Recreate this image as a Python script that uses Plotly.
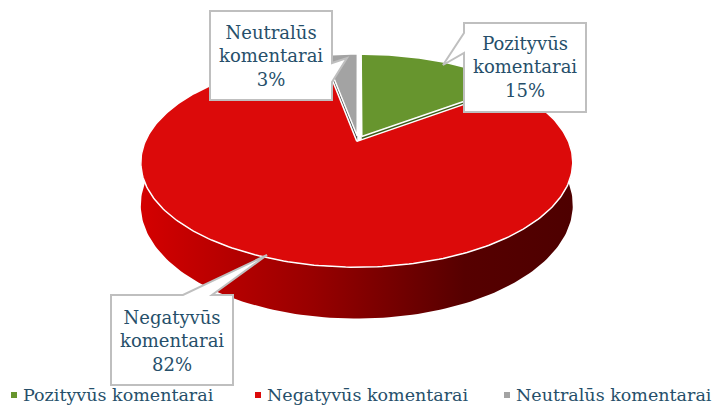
import numpy as np
import plotly.graph_objects as go

# data
labels = ["Pozityvūs komentarai", "Negatyvūs komentarai", "Neutralūs komentarai"]
shares = [15, 82, 3]
top_colors = ["#67952E", "#DC0A0A", "#A3A3A3"]
cut_colors = ["#3B5C18", "#7A0000", "#3F3F3F"]
callout_text = ["Pozityvūs<br>komentarai<br>15%", "Negatyvūs<br>komentarai<br>82%", "Neutralūs<br>komentarai<br>3%"]

# the page puts the figure 8px in from the top-left corner,
# so the axes are set up to read in window pixels
W, H = 724, 409
PAD = 8
cx, cy = 358, 140     # pie centre in pixels
rx, ry = 211, 100     # radii of the top face
depth = 41            # thickness of the disc
persp = 0.2           # perspective strength
explode = [0.04, 0.015, 0.04]
font = "DejaVu Serif"
text_col = "#264F6A"
legend_x = [14, 258, 507]   # legend square positions
legend_y = 395


def proj(u, v, z=0.0):
    s = 1.0 / (1.0 + persp * v)
    return cx + rx * u * s, cy - ry * v * s + depth * z * s


def pts(ang, r=1.0, z=0.0, off=(0, 0)):
    a = np.radians(ang)
    return proj(off[0] + r * np.cos(a), off[1] + r * np.sin(a), z)


# slice angles, clockwise from 12 o'clock
total = sum(shares)
starts, ends = [], []
a = 90.0
for v in shares:
    starts.append(a)
    a -= 360.0 * v / total
    ends.append(a)

offs = []
for i in range(3):
    b = np.radians((starts[i] + ends[i]) / 2)
    offs.append((explode[i] * np.cos(b), explode[i] * np.sin(b)))

fig = go.Figure()


def add_poly(xs, ys, color, line_col=None, lw=0, **kw):
    fig.add_trace(go.Scatter(x=xs, y=ys, mode="lines", fill="toself", fillcolor=color,
                             line=dict(color=line_col or color, width=lw),
                             hoverinfo="skip", showlegend=False, **kw))


# radial cut faces of the small slices (green end edge, grey start edge)
for i, ang in [(0, ends[0]), (2, starts[2])]:
    o = offs[i]
    c0 = proj(o[0], o[1], 0)
    c1 = proj(o[0], o[1], 1)
    r0 = pts(ang, 1, 0, o)
    r1 = pts(ang, 1, 1, o)
    add_poly([c0[0], r0[0], r1[0], c1[0], c0[0]], [c0[1], r0[1], r1[1], c1[1], c0[1]], cut_colors[i])

# top faces of the small slices
for i in (0, 2):
    o = offs[i]
    angs = np.linspace(starts[i], ends[i], 60)
    x, y = pts(angs, 1, 0, o)
    c = proj(o[0], o[1], 0)
    add_poly([c[0], *x, c[0]], [c[1], *y, c[1]], top_colors[i], "white", 1.5, name=labels[i])

# outer wall of the big slice, front half
o = offs[1]
angs = np.linspace(168, 372, 160)
xt, yt = pts(angs, 1, 0, o)
xb, yb = pts(angs[::-1], 1, 1, o)
fig.add_trace(go.Scatter(
    x=np.concatenate([xt, xb]), y=np.concatenate([yt, yb]), mode="lines", fill="toself",
    fillgradient=dict(type="horizontal",
                      colorscale=[[0, "#D40000"], [0.4, "#980000"], [0.75, "#560000"], [1, "#4E0000"]]),
    line=dict(width=0), hoverinfo="skip", showlegend=False))

# top face of the big slice
angs = np.linspace(starts[1], ends[1], 300)
x, y = pts(angs, 1, 0, o)
c = proj(o[0], o[1], 0)
add_poly([c[0], *x, c[0]], [c[1], *y, c[1]], top_colors[1], "white", 1.5, name=labels[1])

# legend along the bottom
fig.add_trace(go.Scatter(x=legend_x, y=[legend_y] * 3, mode="markers", hoverinfo="skip",
                         marker=dict(symbol="square", size=6, color=top_colors), showlegend=False))
for i in range(3):
    fig.add_annotation(x=legend_x[i] + 7, y=legend_y, xref="x", yref="y", text=labels[i],
                       showarrow=False, xanchor="left", yanchor="middle",
                       font=dict(family=font, size=17.5, color=text_col))

# callouts
boxes = [
    ("M464,23 L586,23 L586,112 L464,112 L464,53 L443,65 L464,33 Z", 525, 67),
    ("M111,295 L183,295 L267,255 L212,295 L233,295 L233,385 L111,385 Z", 172, 341),
    ("M210,11 L332,11 L332,63 L347,58 L332,82 L332,100 L210,100 Z", 271, 56),
]
for i, (path, tx, ty) in enumerate(boxes):
    fig.add_shape(type="path", path=path, xref="x", yref="y", fillcolor="white",
                  line=dict(color="#BFBFBF", width=2), layer="above")
    fig.add_annotation(x=tx, y=ty, xref="x", yref="y", text=callout_text[i], showarrow=False,
                       font=dict(family=font, size=18, color=text_col), align="center")

fig.update_layout(
    width=W - PAD, height=H - PAD, autosize=False,
    margin=dict(l=0, r=0, t=0, b=0),
    plot_bgcolor="white", paper_bgcolor="white",
    xaxis=dict(range=[PAD, W], visible=False, fixedrange=True),
    yaxis=dict(range=[H, PAD], visible=False, fixedrange=True),
    showlegend=False,
)

fig.write_html("out.html")
